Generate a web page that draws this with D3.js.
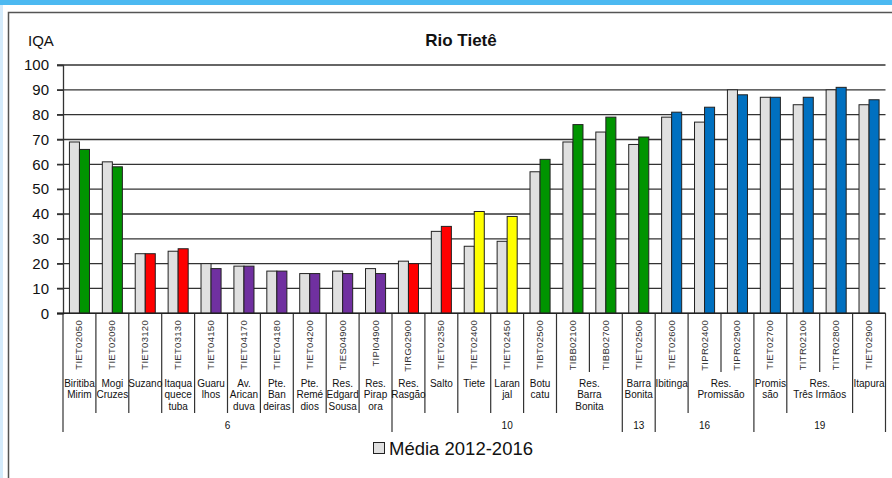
<!DOCTYPE html>
<meta charset="utf-8">
<style>
  body { margin: 0; background: #fff; }
  svg { display: block; font-family: "Liberation Sans", Arial, sans-serif; }
  .grid line { stroke: #333; stroke-width: 1.3; }
  .yaxis text { font-size: 15px; fill: #111; }
  .code { font-size: 9.5px; fill: #333; letter-spacing: 0.3px; }
  .local { font-size: 10px; fill: #111; }
  .sep { stroke: #333; stroke-width: 1.2; }
</style>
<body>
<svg width="892" height="478"></svg>

<script src="https://cdn.jsdelivr.net/npm/d3@7"></script>
<script>

// Pontos de monitoramento (ordem do rio)
var codes = ["TIET02050", "TIET02090", "TIET03120", "TIET03130", "TIET04150",
             "TIET04170", "TIET04180", "TIET04200", "TIES04900", "TIPI04900",
             "TIRG02900", "TIET02350", "TIET02400", "TIET02450", "TIBT02500",
             "TIBB02100", "TIBB02700", "TIET02500", "TIET02600", "TIPR02400",
             "TIPR02900", "TIET02700", "TITR02100", "TITR02800", "TIET02900"];

// Local (linhas separadas por |)
var locais = ["Biritiba|Mirim", "Mogi|Cruzes", "Suzano", "Itaqua|quece|tuba", "Guaru|lhos",
              "Av.|Arican|duva", "Pte.|Ban|deiras", "Pte.|Remé|dios", "Res.|Edgard|Sousa", "Res.|Pirap|ora",
              "Res.|Rasgão", "Salto", "Tiete", "Laran|jal", "Botu|catu",
              "Res.|Barra|Bonita", "Res.|Barra|Bonita", "Barra|Bonita", "Ibitinga", "Res.|Promissão",
              "Res.|Promissão", "Promis|são", "Res.|Três Irmãos", "Res.|Três Irmãos", "Itapura"];

var ugrhi = [6, 6, 6, 6, 6, 6, 6, 6, 6, 6,
             10, 10, 10, 10, 10, 10, 10,
             13, 16, 16, 16, 19, 19, 19, 19];

// IQA media 2012-2016 e valor atual
var media = [69, 61, 24, 25, 20, 19, 17, 16, 17, 18,
             21, 33, 27, 29, 57, 69, 73, 68, 79, 77,
             90, 87, 84, 90, 84];
var atual = [66, 59, 24, 26, 18, 19, 17, 16, 16, 16,
             20, 35, 41, 39, 62, 76, 79, 71, 81, 83,
             88, 87, 87, 91, 86];

var yTicks = [0, 10, 20, 30, 40, 50, 60, 70, 80, 90, 100];

var svg = d3.select("svg");

// moldura
svg.append("rect").attr("x", 0).attr("y", 0).attr("width", 892).attr("height", 5).attr("fill", "#4cb9f1");
svg.append("rect").attr("x", 0).attr("y", 5).attr("width", 3).attr("height", 473).attr("fill", "#d4ebfb");
svg.append("path").attr("d", "M8.5,478V12.5H892")
    .attr("fill", "none").attr("stroke", "#555").attr("stroke-width", 1.5);

var x = d3.scaleBand().domain(codes).range([63, 885.5]).padding(0);
var xs = d3.scaleBand().domain(["media", "atual"]).range([0, x.bandwidth()]).paddingOuter(0.64);
var y = d3.scaleLinear().domain([0, 100]).range([313.3, 65]);

// classes de IQA
var classe = d3.scaleThreshold().domain([20, 37, 52, 80])
    .range(["#7030a0", "#ff0000", "#ffff00", "#009400", "#0070c0"]);

// grade
svg.append("g").attr("class", "grid")
  .selectAll("line").data(yTicks).join("line")
    .attr("x1", 57).attr("x2", 885.5)
    .attr("y1", function(d) { return y(d); }).attr("y2", function(d) { return y(d); });

// eixo Y
var yAxis = svg.append("g").attr("class", "yaxis")
    .attr("transform", "translate(63,0)")
    .call(d3.axisLeft(y).tickValues(yTicks).tickSize(6).tickPadding(8));
yAxis.selectAll("line, path").attr("stroke", "#333").attr("stroke-width", 1.3);

// barras
var bars = svg.append("g").selectAll("g").data(codes).join("g")
    .attr("transform", function(d) { return "translate(" + x(d) + ",0)"; });

bars.append("rect")
    .attr("x", xs("media")).attr("width", xs.bandwidth())
    .attr("y", function(d, i) { return y(media[i]); })
    .attr("height", function(d, i) { return y(0) - y(media[i]); })
    .attr("fill", "#e0e0e0").attr("stroke", "#222").attr("stroke-width", 1);

bars.append("rect")
    .attr("x", xs("atual")).attr("width", xs.bandwidth())
    .attr("y", function(d, i) { return y(atual[i]); })
    .attr("height", function(d, i) { return y(0) - y(atual[i]); })
    .attr("fill", function(d, i) { return classe(atual[i]); })
    .attr("stroke", "#222").attr("stroke-width", 1);

// codigos rotacionados
bars.append("text").attr("class", "code")
    .attr("transform", "translate(" + (x.bandwidth() / 2 + 3) + ",320) rotate(-90)")
    .attr("text-anchor", "end")
    .text(function(d) { return d; });

// agrupamentos (local e UGRHI)
function runs(arr) {
    var out = [];
    arr.forEach(function(v, i) {
        var last = out[out.length - 1];
        if (last && last.v === v && (arr !== locais || ugrhi[i] === ugrhi[last.start])) last.end = i;
        else out.push({ v: v, start: i, end: i });
    });
    return out;
}
var locRuns = runs(locais);
var ugRuns = runs(ugrhi);

function edge(i) { return i < codes.length ? x(codes[i]) : x.range()[1]; }

// separadores: nivel 1 (codigo), 2 (local), 3 (ugrhi)
var seps = d3.range(codes.length + 1).map(function(i) {
    var lvl = 1;
    if (locRuns.some(function(r) { return r.start === i || r.end + 1 === i; })) lvl = 2;
    if (ugRuns.some(function(r) { return r.start === i || r.end + 1 === i; })) lvl = 3;
    return { x: edge(i), lvl: lvl };
});
var sepBottom = { 1: 372, 2: 413, 3: 432 };

svg.append("g").selectAll("line").data(seps).join("line")
    .attr("class", "sep")
    .attr("x1", function(d) { return d.x; }).attr("x2", function(d) { return d.x; })
    .attr("y1", 313.3).attr("y2", function(d) { return sepBottom[d.lvl]; });

// eixo X (linha base)
svg.append("line").attr("x1", 57).attr("x2", 885.5).attr("y1", y(0)).attr("y2", y(0))
    .attr("stroke", "#222").attr("stroke-width", 1.5);

var loc = svg.append("g").selectAll("text").data(locRuns).join("text")
    .attr("class", "local").attr("text-anchor", "middle")
    .attr("x", function(d) { return (edge(d.start) + edge(d.end + 1)) / 2; })
    .attr("y", 386.5);
loc.selectAll("tspan").data(function(d) { return d.v.split("|"); }).join("tspan")
    .attr("x", function() { return d3.select(this.parentNode).attr("x"); })
    .attr("dy", function(d, i) { return i ? 11.7 : 0; })
    .text(function(d) { return d; });

svg.append("g").selectAll("text").data(ugRuns).join("text")
    .attr("class", "local").attr("text-anchor", "middle")
    .attr("x", function(d) { return (edge(d.start) + edge(d.end + 1)) / 2; })
    .attr("y", 428.5)
    .text(function(d) { return d.v; });

// titulos
svg.append("text").attr("x", 28).attr("y", 46).attr("font-size", 15).attr("fill", "#111").text("IQA");
svg.append("text").attr("x", 461).attr("y", 46).attr("text-anchor", "middle")
    .attr("font-size", 17).attr("font-weight", "bold").attr("fill", "#111").text("Rio Tietê");

// legenda
svg.append("rect").attr("x", 373.5).attr("y", 442.5).attr("width", 11).attr("height", 11)
    .attr("fill", "#e0e0e0").attr("stroke", "#222");
svg.append("text").attr("x", 389).attr("y", 455).attr("font-size", 18.5).attr("fill", "#111")
    .text("Média 2012-2016");

</script>
</body>
